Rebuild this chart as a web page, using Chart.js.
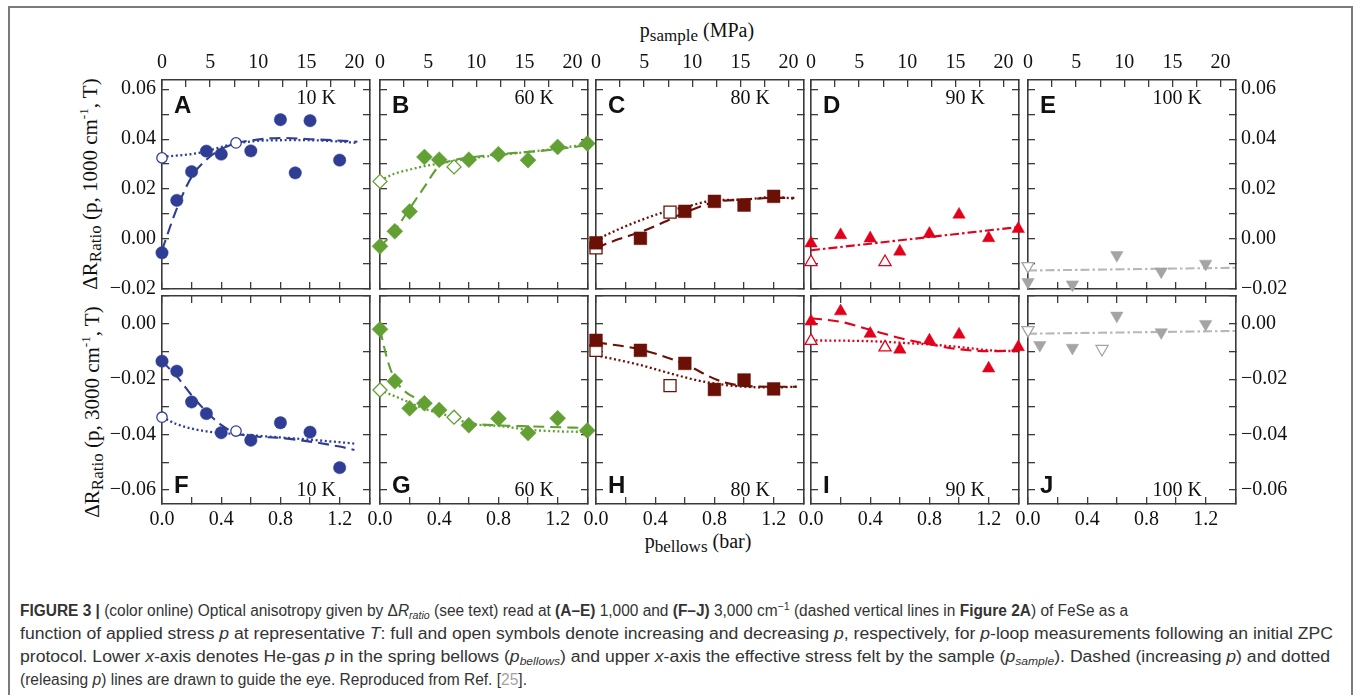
<!DOCTYPE html>
<html lang="en">
<head>
<meta charset="utf-8">
<title>FeSe optical anisotropy under uniaxial stress</title>
<script src="https://cdn.jsdelivr.net/npm/chart.js@4.4.1/dist/chart.umd.min.js"></script>
<style>
  html, body { margin: 0; padding: 0; background: #fff; }
  body { width: 1356px; height: 695px; position: relative; overflow: hidden; }
  #border { position: absolute; left: 8px; top: 6px; width: 1345px; height: 740px; border: 2px solid #7b7b7b; box-sizing: border-box; }
  canvas { position: absolute; }
  .serif { position: absolute; font-family: 'Liberation Serif', 'Times New Roman', serif; color: #111; white-space: nowrap; font-size: 20px; line-height: 20px; }
  .serif sub { font-size: 17px; vertical-align: -4px; line-height: 0; }
  .serif sup { font-size: 13px; vertical-align: 9px; line-height: 0; }
  .ytitle { font-size: 21px; transform: translate(-50%, -50%) rotate(-90deg); }
  .xtitle { transform: translateX(-50%); }
  .cap { position: absolute; left: 20px; font-family: 'Liberation Sans', Arial, sans-serif; font-size: 16px; line-height: 16px; color: #333; white-space: nowrap; transform-origin: 0 0; }
  .cap sub { font-size: 11px; vertical-align: -3px; line-height: 0; }
  .cap sup { font-size: 11px; vertical-align: 6px; line-height: 0; }
  .cap .ref { color: #a3a3a3; }
</style>
</head>
<body>
<div id="border"></div>

<div class="serif xtitle" style="left:697px; top:20px;">p<sub>sample</sub> (MPa)</div>
<div class="serif xtitle" style="left:698px; top:531px;">p<sub>bellows</sub> (bar)</div>
<div class="serif ytitle" style="left:90px; top:184px;">&Delta;R<sub>Ratio</sub> (p, 1000 cm<sup>-1</sup>, T)</div>
<div class="serif ytitle" style="left:92px; top:412px;">&Delta;R<sub>Ratio</sub> (p, 3000 cm<sup>-1</sup>, T)</div>

<div class="cap" data-w="1108" style="top:603px;"><b>FIGURE 3 |</b> (color online) Optical anisotropy given by &Delta;<i>R<sub>ratio</sub></i> (see text) read at <b>(A&ndash;E)</b> 1,000 and <b>(F&ndash;J)</b> 3,000 cm<sup>&minus;1</sup> (dashed vertical lines in <b>Figure 2A</b>) of FeSe as a</div>
<div class="cap" data-w="1313" style="top:626px;">function of applied stress <i>p</i> at representative <i>T</i>: full and open symbols denote increasing and decreasing <i>p</i>, respectively, for <i>p</i>-loop measurements following an initial ZPC</div>
<div class="cap" data-w="1310" style="top:649px;">protocol. Lower <i>x</i>-axis denotes He-gas <i>p</i> in the spring bellows (<i>p<sub>bellows</sub></i>) and upper <i>x</i>-axis the effective stress felt by the sample (<i>p<sub>sample</sub></i>). Dashed (increasing <i>p</i>) and dotted</div>
<div class="cap" data-w="507" style="top:672px;">(releasing <i>p</i>) lines are drawn to guide the eye. Reproduced from Ref. [<span class="ref">25</span>].</div>

<script>
// ---------- tick sets ----------
const yTicksTop = [-0.02, -0.01, 0, 0.01, 0.02, 0.03, 0.04, 0.05, 0.06];
const yLabelsTop = [-0.02, 0, 0.02, 0.04, 0.06];
const yTicksBottom = [-0.06, -0.05, -0.04, -0.03, -0.02, -0.01, 0, 0.01];
const yLabelsBottom = [-0.06, -0.04, -0.02, 0];
const barTicks = [0, 0.2, 0.4, 0.6, 0.8, 1.0, 1.2, 1.4];
const barLabels = [0, 0.4, 0.8, 1.2];
const mpaTicks = [0, 2.5, 5, 7.5, 10, 12.5, 15, 17.5, 20];
const mpaLabels = [0, 5, 10, 15, 20];

const temps = ['10 K', '60 K', '80 K', '90 K', '100 K'];
const lettersTop = ['A', 'B', 'C', 'D', 'E'];
const lettersBottom = ['F', 'G', 'H', 'I', 'J'];

// ---------- 1000 cm-1 (top row) ----------
// 10 K
const aUpP = [0, 0.1, 0.2, 0.3, 0.4, 0.6, 0.8, 0.9, 1.0, 1.2];
const aUpV = [-0.0055, 0.0155, 0.027, 0.0352, 0.034, 0.0353, 0.0478, 0.0265, 0.0474, 0.0316];
const aDownP = [0, 0.5];
const aDownV = [0.0325, 0.0385];
const aIncP = [0, 0.1, 0.2, 0.3, 0.4, 0.5, 0.7, 0.82, 1.0, 1.15, 1.32];
const aIncV = [-0.0045, 0.0122, 0.0249, 0.0318, 0.036, 0.0383, 0.0402, 0.0405, 0.04, 0.0396, 0.039];
const aDecP = [0, 0.25, 0.48, 0.7, 0.93, 1.1, 1.32];
const aDecV = [0.0329, 0.0345, 0.038, 0.0395, 0.0396, 0.0394, 0.0385];
// 60 K
const bUpP = [0, 0.1, 0.2, 0.3, 0.4, 0.6, 0.8, 1.0, 1.2, 1.4];
const bUpV = [-0.0029, 0.0031, 0.011, 0.0329, 0.0318, 0.0318, 0.034, 0.0316, 0.0369, 0.0383];
const bDownP = [0, 0.5];
const bDownV = [0.0231, 0.0289];
const bIncP = [0, 0.1, 0.2, 0.3, 0.4, 0.5, 0.6, 0.8, 1.0, 1.2, 1.4];
const bIncV = [-0.0032, 0.0035, 0.0122, 0.0209, 0.0293, 0.0316, 0.0326, 0.034, 0.0349, 0.036, 0.0376];
const bDecP = [0, 0.1, 0.2, 0.3, 0.4, 0.5, 0.6, 0.8, 1.0, 1.2, 1.4];
const bDecV = [0.0235, 0.0262, 0.0278, 0.0292, 0.0302, 0.0313, 0.0322, 0.0336, 0.0349, 0.0363, 0.038];
// 80 K
const cUpP = [0, 0.3, 0.6, 0.8, 1.0, 1.2];
const cUpV = [-0.0015, 0.0003, 0.0111, 0.0151, 0.0136, 0.0171];
const cDownP = [0, 0.5];
const cDownV = [-0.0035, 0.0108];
const cIncP = [0, 0.16, 0.3, 0.46, 0.6, 0.8, 1.0, 1.2, 1.34];
const cIncV = [-0.0035, 0.0001, 0.0028, 0.0068, 0.0106, 0.0148, 0.0158, 0.0165, 0.0165];
const cDecP = [0, 0.16, 0.3, 0.46, 0.6, 0.8, 1.0, 1.2, 1.34];
const cDecV = [-0.0003, 0.0041, 0.0075, 0.0108, 0.0128, 0.0155, 0.0158, 0.0169, 0.0162];
// 90 K
const dUpP = [0, 0.2, 0.4, 0.6, 0.8, 1.0, 1.2, 1.4];
const dUpV = [-0.0017, 0.0016, 0.0003, -0.005, 0.0021, 0.0098, 0.0004, 0.0041];
const dDownP = [0, 0.5];
const dDownV = [-0.0092, -0.0092];
const dFitP = [0, 1.4];
const dFitV = [-0.0045, 0.0048];
// 100 K
const eUpP = [0, 0.3, 0.6, 0.9, 1.2];
const eUpV = [-0.0172, -0.0182, -0.0064, -0.013, -0.0099];
const eDownP = [0];
const eDownV = [-0.0108];
const eFitP = [0, 1.4];
const eFitV = [-0.0126, -0.0115];

// ---------- 3000 cm-1 (bottom row) ----------
// 10 K
const fUpP = [0, 0.1, 0.2, 0.3, 0.4, 0.6, 0.8, 1.0, 1.2];
const fUpV = [-0.0135, -0.0171, -0.0282, -0.0324, -0.0393, -0.042, -0.0357, -0.0391, -0.0519];
const fDownP = [0, 0.5];
const fDownV = [-0.0337, -0.0387];
const fIncP = [0, 0.1, 0.2, 0.3, 0.4, 0.5, 0.6, 0.8, 1.0, 1.2, 1.3];
const fIncV = [-0.0135, -0.019, -0.0258, -0.0317, -0.0365, -0.0395, -0.0405, -0.0412, -0.0425, -0.0443, -0.0455];
const fDecP = [0, 0.1, 0.2, 0.3, 0.4, 0.5, 0.8, 1.0, 1.3];
const fDecV = [-0.0337, -0.0362, -0.0378, -0.0388, -0.0394, -0.0398, -0.041, -0.0418, -0.0432];
// 60 K
const gUpP = [0, 0.1, 0.2, 0.3, 0.4, 0.6, 0.8, 1.0, 1.2, 1.4];
const gUpV = [-0.002, -0.0207, -0.0305, -0.0287, -0.0311, -0.0366, -0.0342, -0.0394, -0.0341, -0.0385];
const gDownP = [0, 0.5];
const gDownV = [-0.0239, -0.0337];
const gIncP = [0, 0.045, 0.09, 0.16, 0.29, 0.49, 0.6, 0.83, 1.0, 1.4];
const gIncV = [-0.002, -0.012, -0.019, -0.024, -0.028, -0.0329, -0.0356, -0.0367, -0.037, -0.0376];
const gDecP = [0, 0.16, 0.29, 0.49, 0.6, 0.83, 1.0, 1.2, 1.4];
const gDecV = [-0.0239, -0.0275, -0.0305, -0.0337, -0.0359, -0.037, -0.0382, -0.0388, -0.039];
// 80 K
const hUpP = [0, 0.3, 0.6, 0.8, 1.0, 1.2];
const hUpV = [-0.006, -0.0096, -0.0143, -0.0237, -0.0203, -0.0235];
const hDownP = [0, 0.5];
const hDownV = [-0.0096, -0.0223];
const hIncP = [0, 0.3, 0.6, 0.82, 0.95, 1.2, 1.355];
const hIncV = [-0.0067, -0.0093, -0.0146, -0.0203, -0.0221, -0.0227, -0.0227];
const hDecP = [0, 0.3, 0.5, 0.73, 0.95, 1.2, 1.355];
const hDecV = [-0.0114, -0.0149, -0.0179, -0.0209, -0.0225, -0.023, -0.0227];
// 90 K
const iUpP = [0, 0.2, 0.4, 0.6, 0.8, 1.0, 1.2, 1.4];
const iUpV = [0.0008, 0.0045, -0.0036, -0.0093, -0.006, -0.0039, -0.0161, -0.0084];
const iDownP = [0, 0.5];
const iDownV = [-0.0062, -0.0085];
const iIncP = [0, 0.21, 0.4, 0.62, 0.81, 1.0, 1.21, 1.4];
const iIncV = [0.002, 0.0006, -0.0022, -0.0054, -0.0075, -0.0092, -0.0099, -0.0096];
const iDecP = [0, 0.4, 0.62, 0.81, 1.0, 1.21, 1.4];
const iDecV = [-0.006, -0.0063, -0.0069, -0.0075, -0.0084, -0.0096, -0.0099];
// 100 K
const jUpP = [0.08, 0.3, 0.6, 0.9, 1.2];
const jUpV = [-0.0077, -0.0087, 0.0029, -0.0031, -0.0001];
const jDownP = [0, 0.5];
const jDownV = [-0.0023, -0.0091];
const jFitP = [0, 1.4];
const jFitV = [-0.0036, -0.0026];

// ---------- layout & style ----------
const PANEL_W = 208;
const COL_LEFT = [162, 380, 596, 811, 1028];
const ROW_TOP = [80, 296];
const ROW_H = [209, 208];
const MX = 70, MY = 40;
const BAR_MAX = 1.405, MPA_MAX = 21.6;
const Y_RANGE = [[-0.02, 0.0637], [-0.065, 0.01]];

const FRAME = '#3a3a3a';
const SERIF = "'Liberation Serif', 'Times New Roman', serif";
const SANS = "'Liberation Sans', Arial, sans-serif";
const blue = '#2f3e94', green = '#62a034', maroon = '#6b1006', red = '#e2001b', grey = '#a4a4a4', greyLine = '#b8b8b8';
const DASH = { dash: [11, 6], dot: [2, 2.6], dashdot: [9, 3, 2.5, 3] };

const panels = [
  { row: 0, col: 0, color: blue, shape: 'circle', rot: 0, r: 6.2, ro: 5.2,
    fill: [aUpP, aUpV], open: [aDownP, aDownV], curves: [[aIncP, aIncV, 'dash'], [aDecP, aDecV, 'dot']] },
  { row: 0, col: 1, color: green, shape: 'rectRot', rot: 0, r: 8, ro: 7,
    fill: [bUpP, bUpV], open: [bDownP, bDownV], curves: [[bIncP, bIncV, 'dash'], [bDecP, bDecV, 'dot']] },
  { row: 0, col: 2, color: maroon, shape: 'rect', rot: 0, r: 9, ro: 8.5,
    fill: [cUpP, cUpV], open: [cDownP, cDownV], curves: [[cIncP, cIncV, 'dash'], [cDecP, cDecV, 'dot']] },
  { row: 0, col: 3, color: red, shape: 'triangle', rot: 0, r: 7.2, ro: 7,
    fill: [dUpP, dUpV], open: [dDownP, dDownV], curves: [[dFitP, dFitV, 'dashdot']] },
  { row: 0, col: 4, color: grey, line: greyLine, shape: 'triangle', rot: 180, r: 7.2, ro: 7,
    fill: [eUpP, eUpV], open: [eDownP, eDownV], curves: [[eFitP, eFitV, 'dashdot']] },
  { row: 1, col: 0, color: blue, shape: 'circle', rot: 0, r: 6.2, ro: 5.2,
    fill: [fUpP, fUpV], open: [fDownP, fDownV], curves: [[fIncP, fIncV, 'dash'], [fDecP, fDecV, 'dot']] },
  { row: 1, col: 1, color: green, shape: 'rectRot', rot: 0, r: 8, ro: 7,
    fill: [gUpP, gUpV], open: [gDownP, gDownV], curves: [[gIncP, gIncV, 'dash'], [gDecP, gDecV, 'dot']] },
  { row: 1, col: 2, color: maroon, shape: 'rect', rot: 0, r: 9, ro: 8.5,
    fill: [hUpP, hUpV], open: [hDownP, hDownV], curves: [[hIncP, hIncV, 'dash'], [hDecP, hDecV, 'dot']] },
  { row: 1, col: 3, color: red, shape: 'triangle', rot: 0, r: 7.2, ro: 7,
    fill: [iUpP, iUpV], open: [iDownP, iDownV], curves: [[iIncP, iIncV, 'dash'], [iDecP, iDecV, 'dot']] },
  { row: 1, col: 4, color: grey, line: greyLine, shape: 'triangle', rot: 180, r: 7.2, ro: 7,
    fill: [jUpP, jUpV], open: [jDownP, jDownV], curves: [[jFitP, jFitV, 'dashdot']] }
];

// ---------- helpers ----------
const pts = (p, v) => p.map((x, i) => ({ x, y: v[i] }));
const hasLabel = (list, v) => list.some(l => Math.abs(l - v) < 1e-9);
const fmtY = v => Math.abs(v) < 1e-9 ? '0.00' : (v < 0 ? '\u2212' : '') + Math.abs(v).toFixed(2);
const fmtBar = v => v.toFixed(1);
const fmtMpa = v => String(v);

function axis(id, position, min, max, tickList, labelList, fmt, pad) {
  const vertical = position === 'left' || position === 'right';
  return {
    type: 'linear', axis: vertical ? 'y' : 'x', position, min, max, bounds: 'data',
    afterBuildTicks: s => { s.ticks = tickList.map(v => ({ value: v })); },
    afterFit: s => { if (vertical) s.width = MX; else s.height = MY; },
    border: { display: true, color: FRAME, width: 1.6 },
    grid: { display: true, drawOnChartArea: false, drawTicks: true, tickLength: -7, color: FRAME, lineWidth: 1.3 },
    ticks: {
      autoSkip: false, maxRotation: 0, minRotation: 0, padding: pad, color: '#111',
      font: { family: SERIF, size: 20 },
      callback: v => (labelList && hasLabel(labelList, v)) ? fmt(v) : ''
    }
  };
}

// panel letter and temperature tag
const panelText = {
  id: 'panelText',
  afterDatasetsDraw(chart, args, o) {
    const { ctx, chartArea: a } = chart;
    ctx.save();
    ctx.fillStyle = '#111';
    ctx.textBaseline = 'alphabetic';
    ctx.font = 'bold 24px ' + SANS;
    ctx.textAlign = 'left';
    ctx.fillText(o.letter, a.left + 12, o.top ? a.top + 33 : a.bottom - 11);
    ctx.font = '20px ' + SERIF;
    ctx.textAlign = 'right';
    ctx.fillText(o.temp, a.right - 34, o.top ? a.top + 24 : a.bottom - 8);
    ctx.restore();
  }
};

function build(pd) {
  const top = pd.row === 0;
  const h = ROW_H[pd.row];
  const cv = document.createElement('canvas');
  cv.width = PANEL_W + 2 * MX;
  cv.height = h + 2 * MY;
  cv.style.left = (COL_LEFT[pd.col] - MX) + 'px';
  cv.style.top = (ROW_TOP[pd.row] - MY) + 'px';
  cv.style.width = cv.width + 'px';
  cv.style.height = cv.height + 'px';
  document.body.appendChild(cv);

  const lineColor = pd.line || pd.color;
  const datasets = [
    { data: pts(...pd.fill), pointStyle: pd.shape, pointRotation: pd.rot, pointRadius: pd.r,
      backgroundColor: pd.color, borderColor: pd.color, borderWidth: 0.5, order: 0, clip: false },
    { data: pts(...pd.open), pointStyle: pd.shape, pointRotation: pd.rot, pointRadius: pd.ro,
      backgroundColor: '#ffffff', borderColor: pd.color, borderWidth: 1.3, order: 0, clip: false }
  ];
  pd.curves.forEach(([p, v, kind]) => datasets.push({
    data: pts(p, v), showLine: true, pointRadius: 0, borderColor: lineColor, backgroundColor: lineColor,
    borderWidth: kind === 'dot' ? 2.3 : 2.1, borderDash: DASH[kind], cubicInterpolationMode: 'monotone',
    fill: false, order: 1, clip: false
  }));

  const [ymin, ymax] = Y_RANGE[pd.row];
  const yT = top ? yTicksTop : yTicksBottom;
  const yL = top ? yLabelsTop : yLabelsBottom;

  new Chart(cv, {
    type: 'scatter',
    data: { datasets },
    options: {
      responsive: false, maintainAspectRatio: false, animation: false, devicePixelRatio: 1, events: [],
      layout: { padding: 0 },
      plugins: {
        legend: { display: false }, tooltip: { enabled: false },
        panelText: { letter: top ? lettersTop[pd.col] : lettersBottom[pd.col], temp: temps[pd.col], top }
      },
      scales: {
        x: Object.assign(axis('x', 'bottom', 0, BAR_MAX, barTicks, top ? null : barLabels, fmtBar, 11), {}),
        x2: top ? axis('x2', 'top', 0, MPA_MAX, mpaTicks, mpaLabels, fmtMpa, 12)
                : axis('x2', 'top', 0, BAR_MAX, barTicks, null, fmtBar, 12),
        y: axis('y', 'left', ymin, ymax, yT, pd.col === 0 ? yL : null, fmtY, 13),
        y2: axis('y2', 'right', ymin, ymax, yT, pd.col === 4 ? yL : null, fmtY, 12)
      }
    },
    plugins: [panelText]
  });
}

panels.forEach(build);

// stretch each caption line to its column width
document.querySelectorAll('.cap').forEach(el => {
  const w = el.getBoundingClientRect().width;
  el.style.transform = 'scaleX(' + (Number(el.dataset.w) / w) + ')';
});
</script>
</body>
</html>
